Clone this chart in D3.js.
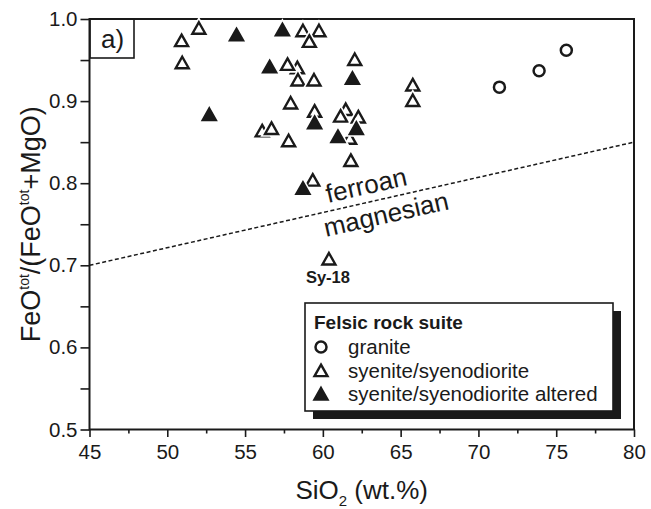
<!DOCTYPE html>
<html>
<head>
<meta charset="utf-8">
<script src="https://cdn.jsdelivr.net/npm/d3@7"></script>
<style>
  body { margin: 0; background: #fff; }
  svg { font-family: "Liberation Sans", Arial, sans-serif; }
</style>
</head>
<body>
<div id="chart"></div>
<script>
'use strict'

/*
 @Data: values
*/
let graniteSi = [71.35, 73.9, 75.65]
let graniteFe = [0.917, 0.937, 0.962]

// open triangles, the ones that sit partly hidden come first
let syeniteSi = [58.36, 56.1, 61.47, 61.72,
  50.92, 50.96, 52.03, 58.72, 59.75, 59.13, 62.05, 57.73, 58.4, 59.43,
  57.93, 59.47, 61.14, 62.28, 56.7, 57.8, 61.8, 59.35, 65.78, 65.78, 60.39]
let syeniteFe = [0.941, 0.864, 0.890, 0.855,
  0.974, 0.947, 0.989, 0.986, 0.986, 0.973, 0.951, 0.945, 0.926, 0.926,
  0.898, 0.888, 0.882, 0.881, 0.867, 0.852, 0.828, 0.804, 0.920, 0.901, 0.708]

let alteredSi = [54.45, 57.4, 56.58, 61.9, 59.47, 62.15, 60.97, 58.72, 52.7]
let alteredFe = [0.981, 0.987, 0.942, 0.928, 0.874, 0.867, 0.857, 0.794, 0.884]

// ferroan / magnesian divide
let boundarySi = [45, 80]
let boundaryFe = [0.70, 0.85]

let xTicks = [45, 50, 55, 60, 65, 70, 75, 80]
let xMinor = [47.5, 52.5, 57.5, 62.5, 67.5, 72.5, 77.5]
let yTicks = [0.5, 0.6, 0.7, 0.8, 0.9, 1.0]
let yMinor = [0.55, 0.65, 0.75, 0.85, 0.95]

let legendTitle = 'Felsic rock suite'
let legendLabels = ['granite', 'syenite/syenodiorite', 'syenite/syenodiorite altered']

/*
 @Constants: layout
*/
let width = 651
let height = 509
let margin = {top: 19, right: 17, bottom: 79.5, left: 89.5}
let w = width - margin.left - margin.right
let h = height - margin.top - margin.bottom
let ink = '#1a1a1a'

let xscale = d3.scaleLinear().domain([45, 80]).range([0, w])
let yscale = d3.scaleLinear().domain([0.5, 1.0]).range([h, 0])

let svg = d3.select('#chart').append('svg')
  .attr('width', width)
  .attr('height', height)

let g = svg.append('g')
  .attr('transform', 'translate(' + margin.left + ',' + margin.top + ')')

// triangle shape, centred on its box
function triPath(s) {
  let tw = 13 * s, th = 11.5 * s
  return 'M0,' + (-th / 2) + 'L' + (tw / 2) + ',' + (th / 2) + 'L' + (-tw / 2) + ',' + (th / 2) + 'Z'
}

/*
  Axes
*/
function cleanAxis(sel) {
  sel.select('.domain').remove()
  sel.selectAll('line').attr('stroke', ink).attr('stroke-width', 1.6)
  sel.selectAll('text').attr('fill', ink).style('font-size', '20.5px')
}

let xAxis = d3.axisBottom(xscale).tickValues(xTicks).tickSize(7.5).tickPadding(3)
  .tickFormat(d3.format('d'))
g.append('g').attr('transform', 'translate(0,' + h + ')').call(xAxis).call(cleanAxis)
  .selectAll('text').attr('dy', '0.95em')

g.append('g').attr('transform', 'translate(0,' + h + ')')
  .call(d3.axisBottom(xscale).tickValues(xMinor).tickSize(4).tickFormat(''))
  .call(cleanAxis)

let yAxis = d3.axisLeft(yscale).tickValues(yTicks).tickSize(9).tickPadding(3)
  .tickFormat(d3.format('.1f'))
g.append('g').call(yAxis).call(cleanAxis)
g.append('g').call(d3.axisLeft(yscale).tickValues(yMinor).tickSize(9).tickFormat(''))
  .call(cleanAxis)

// frame
g.append('rect')
  .attr('x', 0).attr('y', 0)
  .attr('width', w).attr('height', h)
  .attr('fill', 'none')
  .attr('stroke', ink)
  .attr('stroke-width', 2)

// panel tag
g.append('rect')
  .attr('x', 0.5).attr('y', 0)
  .attr('width', 44).attr('height', 39)
  .attr('fill', 'none').attr('stroke', ink).attr('stroke-width', 1.6)
g.append('text')
  .attr('x', 23).attr('y', 29)
  .attr('text-anchor', 'middle')
  .attr('fill', ink)
  .style('font-size', '26px')
  .text('a)')

/*
  Boundary line and field names
*/
let line = d3.line()
  .x(function (d, i) { return xscale(boundarySi[i]) })
  .y(function (d) { return yscale(d) })

g.append('path')
  .datum(boundaryFe)
  .attr('d', line)
  .attr('fill', 'none')
  .attr('stroke', ink)
  .attr('stroke-width', 1.5)
  .attr('stroke-dasharray', '4,2.5')

let ang = -Math.atan2(yscale(boundaryFe[0]) - yscale(boundaryFe[1]), xscale(boundarySi[1]) - xscale(boundarySi[0])) * 180 / Math.PI

g.append('text')
  .attr('transform', 'translate(' + (328 - margin.left) + ',' + (203 - margin.top) + ') rotate(' + ang + ')')
  .attr('fill', ink)
  .style('font-size', '26px')
  .text('ferroan')
g.append('text')
  .attr('transform', 'translate(' + (326 - margin.left) + ',' + (237 - margin.top) + ') rotate(' + ang + ')')
  .attr('fill', ink)
  .style('font-size', '26px')
  .text('magnesian')

/*
  Points: a white halo first, then the mark itself
*/
function drawTriangles(xs, ys, filled) {
  let pts = g.append('g').selectAll('g')
    .data(xs)
    .enter()
    .append('g')
    .attr('transform', function (d, i) {
      return 'translate(' + xscale(d) + ',' + yscale(ys[i]) + ')'
    })
  pts.append('path')
    .attr('d', triPath(1))
    .attr('fill', '#fff')
    .attr('stroke', '#fff')
    .attr('stroke-width', 5.5)
    .attr('stroke-linejoin', 'miter')
  pts.append('path')
    .attr('d', triPath(1))
    .attr('fill', filled ? ink : '#fff')
    .attr('stroke', ink)
    .attr('stroke-width', 2.4)
}

let circ = g.append('g').selectAll('g')
  .data(graniteSi)
  .enter()
  .append('g')
  .attr('transform', function (d, i) {
    return 'translate(' + xscale(d) + ',' + yscale(graniteFe[i]) + ')'
  })
circ.append('circle').attr('r', 5.5).attr('fill', '#fff').attr('stroke', '#fff').attr('stroke-width', 5.5)
circ.append('circle').attr('r', 5.5).attr('fill', '#fff').attr('stroke', ink).attr('stroke-width', 2.5)

drawTriangles(syeniteSi, syeniteFe, false)
drawTriangles(alteredSi, alteredFe, true)

// sample label
g.append('text')
  .attr('x', xscale(60.39) - 1)
  .attr('y', yscale(0.708) + 24)
  .attr('text-anchor', 'middle')
  .attr('fill', ink)
  .style('font-size', '16.5px')
  .style('font-weight', 'bold')
  .text('Sy-18')

/*
  Legend
*/
let lx = 305 - margin.left, ly = 303 - margin.top
let lw = 308, lh = 108
let legend = g.append('g').attr('transform', 'translate(' + lx + ',' + ly + ')')
legend.append('rect')
  .attr('x', 8).attr('y', 8).attr('width', lw).attr('height', lh)
  .attr('fill', ink)
legend.append('rect')
  .attr('x', 0).attr('y', 0).attr('width', lw).attr('height', lh)
  .attr('fill', '#fff').attr('stroke', ink).attr('stroke-width', 1.6)
legend.append('text')
  .attr('x', 9).attr('y', 26)
  .attr('fill', ink)
  .style('font-size', '19px')
  .style('font-weight', 'bold')
  .text(legendTitle)

let rows = legend.selectAll('.legend')
  .data(legendLabels)
  .enter()
  .append('g')
  .attr('class', 'legend')
  .attr('transform', function (d, i) {
    return 'translate(16,' + (44 + i * 23.4) + ')'
  })
rows.append('text')
  .attr('x', 27).attr('y', 7.3)
  .attr('fill', ink)
  .style('font-size', '20.5px')
  .text(function (d) { return d })
rows.each(function (d, i) {
  let r = d3.select(this)
  if (i === 0) {
    r.append('circle').attr('r', 5.5).attr('fill', '#fff').attr('stroke', ink).attr('stroke-width', 2.5)
  } else {
    r.append('path').attr('d', triPath(1))
      .attr('fill', i === 2 ? ink : '#fff')
      .attr('stroke', ink).attr('stroke-width', 2.4)
  }
})

/*
  Axis titles
*/
let yl = svg.append('text')
  .attr('transform', 'translate(40,' + (margin.top + h / 2) + ') rotate(-90)')
  .attr('text-anchor', 'middle')
  .attr('fill', ink)
  .style('font-size', '27px')
yl.append('tspan').text('FeO')
yl.append('tspan').attr('dy', -11).style('font-size', '14px').text('tot')
yl.append('tspan').attr('dy', 11).text('/(FeO')
yl.append('tspan').attr('dy', -11).style('font-size', '14px').text('tot')
yl.append('tspan').attr('dy', 11).text('+MgO)')

let xl = svg.append('text')
  .attr('x', margin.left + w / 2)
  .attr('y', 499)
  .attr('text-anchor', 'middle')
  .attr('fill', ink)
  .style('font-size', '26px')
xl.append('tspan').text('SiO')
xl.append('tspan').attr('dy', 7).style('font-size', '15px').text('2')
xl.append('tspan').attr('dy', -7).text(' (wt.%)')
</script>
</body>
</html>
